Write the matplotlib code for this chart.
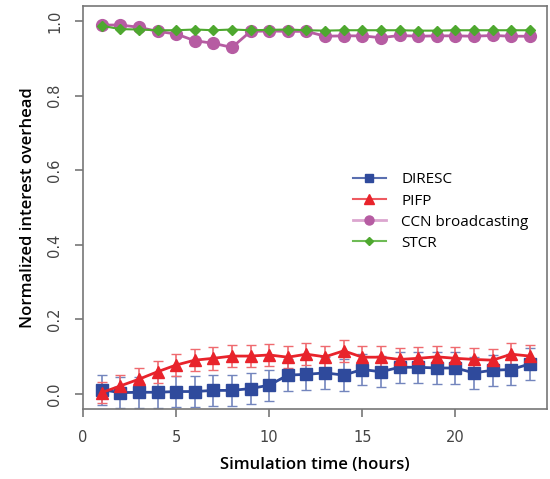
import matplotlib.pyplot as plt
from matplotlib.lines import Line2D
import numpy as np

# Simulation hours
hours = np.arange(1, 25)

# Normalized interest overhead per scheme
diresc = [0.012, 0.004, 0.005, 0.005, 0.007, 0.007, 0.010, 0.010, 0.015, 0.024,
          0.051, 0.053, 0.057, 0.051, 0.066, 0.060, 0.072, 0.072, 0.070, 0.070,
          0.057, 0.064, 0.066, 0.081]
diresc_err = [0.040, 0.042, 0.042, 0.042, 0.042, 0.042, 0.042, 0.042, 0.042, 0.042,
              0.042, 0.042, 0.042, 0.042, 0.042, 0.042, 0.042, 0.042, 0.042, 0.042,
              0.042, 0.042, 0.042, 0.042]
pifp = [0.004, 0.022, 0.040, 0.060, 0.078, 0.091, 0.096, 0.102, 0.102, 0.105,
        0.099, 0.107, 0.100, 0.116, 0.099, 0.099, 0.093, 0.096, 0.100, 0.096,
        0.093, 0.091, 0.107, 0.102]
pifp_err = [0.029, 0.030, 0.030, 0.030, 0.030, 0.030, 0.030, 0.030, 0.030, 0.030,
            0.030, 0.030, 0.030, 0.030, 0.030, 0.030, 0.030, 0.030, 0.030, 0.030,
            0.030, 0.030, 0.030, 0.030]
ccn = [0.989, 0.989, 0.983, 0.972, 0.965, 0.947, 0.940, 0.929, 0.972, 0.973,
       0.972, 0.972, 0.959, 0.960, 0.960, 0.955, 0.961, 0.959, 0.960, 0.960,
       0.959, 0.961, 0.959, 0.959]
stcr = [0.987, 0.978, 0.977, 0.975, 0.975, 0.977, 0.975, 0.977, 0.975, 0.976,
        0.977, 0.975, 0.974, 0.975, 0.975, 0.975, 0.975, 0.974, 0.974, 0.975,
        0.975, 0.975, 0.975, 0.975]

labels = ['DIRESC', 'PIFP', 'CCN broadcasting', 'STCR']
colors = ['#2f4a9c', '#e8232b', '#b65ca2', '#4ea82f']

fig = plt.figure(figsize=(5.5, 4.79), dpi=100)
ax = fig.add_axes([0.151, 0.146, 0.8435, 0.8415])

ax.errorbar(hours, diresc, yerr=diresc_err, color=colors[0], marker='s', markersize=8,
            linewidth=2, ecolor='#7385bd', elinewidth=1.2, capsize=3.5)
ax.errorbar(hours, pifp, yerr=pifp_err, color=colors[1], marker='^', markersize=9,
            linewidth=2, ecolor='#ef6a6f', elinewidth=1.2, capsize=3.5)
ax.plot(hours, ccn, color=colors[2], marker='o', markersize=8.5, linewidth=2)
ax.plot(hours, stcr, color=colors[3], marker='D', markersize=5.5, linewidth=1.5)

ax.set_xlim(0.08, 24.92)
ax.set_ylim(-0.04, 1.04)
ax.set_xticks([0, 5, 10, 15, 20])
ax.set_yticks([0.0, 0.2, 0.4, 0.6, 0.8, 1.0])
ax.set_yticklabels(['0.0', '0.2', '0.4', '0.6', '0.8', '1.0'], rotation=90, va='center')

for s in ax.spines.values():
    s.set_color('#777777')
    s.set_linewidth(1.2)
ax.tick_params(direction='out', length=6, width=1.2, color='#777777',
               labelcolor='#444444', labelsize=10.5, pad=9)
for t in ax.get_xticklabels() + ax.get_yticklabels():
    t.set_family(['Liberation Sans Narrow', 'DejaVu Sans'])

ax.set_xlabel('Simulation time (hours)', fontsize=12, fontweight='semibold',
              family='Open Sans', labelpad=9)
ax.set_ylabel('Normalized interest overhead', fontsize=12, fontweight='semibold',
              family='Open Sans', labelpad=8)

# legend handles drawn like the reference (lighter lines, small markers)
handles = [
    Line2D([], [], color='#5a6fb0', marker='s', markersize=6, markerfacecolor=colors[0],
           markeredgecolor=colors[0], linewidth=1.5),
    Line2D([], [], color='#ee5a60', marker='^', markersize=6.5, markerfacecolor=colors[1],
           markeredgecolor=colors[1], linewidth=1.5),
    Line2D([], [], color='#dca6cf', marker='o', markersize=6.5, markerfacecolor=colors[2],
           markeredgecolor=colors[2], linewidth=2),
    Line2D([], [], color='#6ebb55', marker='D', markersize=4, markerfacecolor=colors[3],
           markeredgecolor=colors[3], linewidth=1.5),
]
ax.legend(handles, labels, loc='center left', bbox_to_anchor=(0.552, 0.49), frameon=False,
          handlelength=2.15, labelspacing=0.4, handletextpad=1.0,
          prop={'family': 'Open Sans', 'size': 11})

fig.savefig('out.png', dpi=100)
